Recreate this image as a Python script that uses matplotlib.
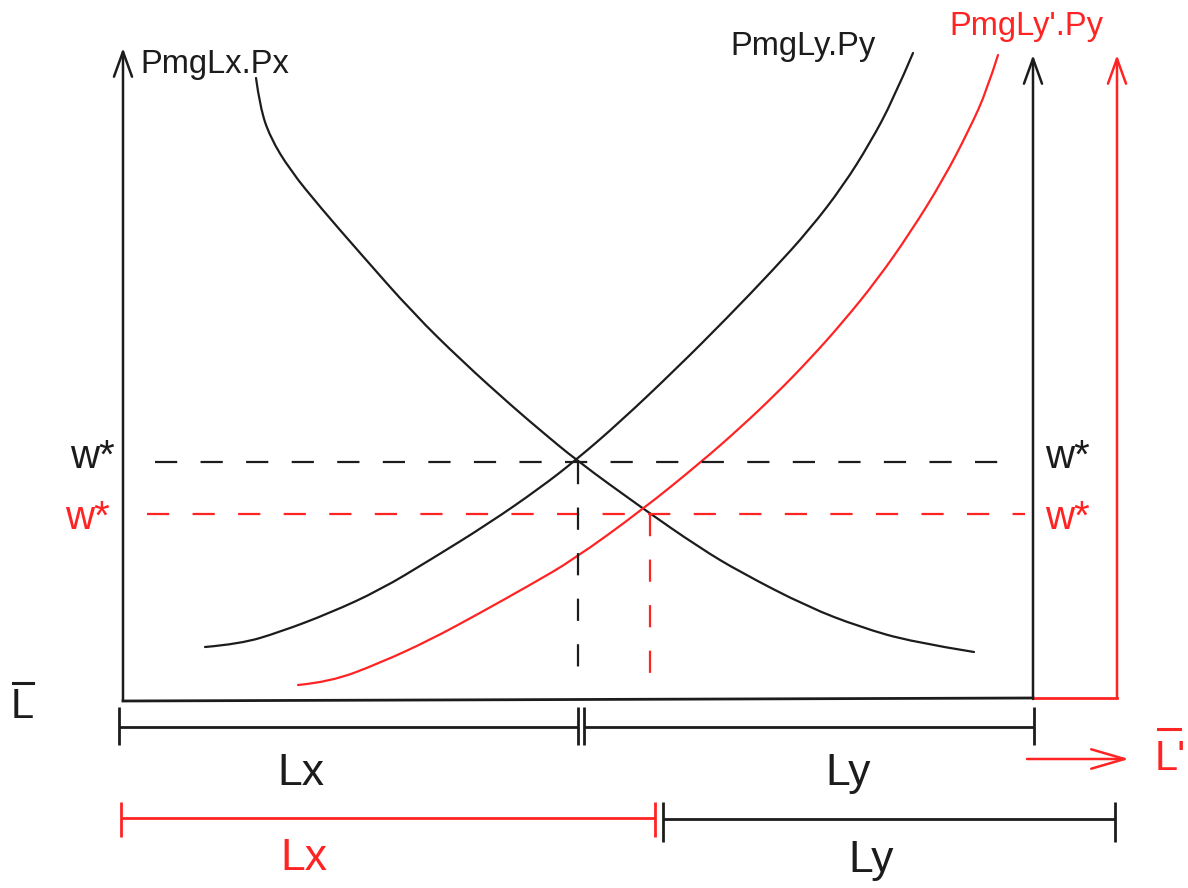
import matplotlib
matplotlib.use("Agg")
from matplotlib import pyplot as plt
from matplotlib.path import Path
from matplotlib.patches import PathPatch

plt.rcParams['font.family'] = ['Liberation Sans', 'DejaVu Sans']

BLACK = '#1c1c1c'
RED = '#ff2424'

# curves (x to the right, y downwards, pixel units)
pmg_lx_x = [256, 260, 270, 290, 320, 360, 413, 463, 513, 540, 576, 642, 700, 740, 808, 860, 912, 974]
pmg_lx_y = [78, 107, 137, 170, 207, 253, 313, 362, 407, 430, 460, 508, 548, 572, 607, 627, 642, 652]

pmg_ly_x = [205, 240, 280, 330, 380, 430, 488, 540, 576, 620, 677, 727, 773, 810, 843, 870, 893, 913]
pmg_ly_y = [647, 644, 632, 613, 590, 560, 524, 488, 460, 422, 368, 318, 270, 229, 186, 143, 100, 53]

pmg_ly2_x = [298, 330, 380, 430, 480, 530, 573, 642, 700, 740, 777, 810, 843, 877, 910, 943, 970, 987, 998]
pmg_ly2_y = [685, 682, 663, 640, 613, 585, 560, 510, 463, 428, 393, 359, 322, 280, 233, 180, 128, 90, 55]

# equilibrium wages and allocations
w_star = 462
w_star_new = 514
lx_star = 578
lx_star_new = 650

# axes: origin, right edges of the labour box
origin_x = 123
origin_y = 701
box_right = 1033
box_right_new = 1117
axis_top = 48

fig = plt.figure(figsize=(11.88, 8.88), dpi=100)
ax = fig.add_axes([0, 0, 1, 1])
ax.set_xlim(0, 1188)
ax.set_ylim(888, 0)
ax.axis('off')


def smooth_curve(xs, ys, color, lw=1.6):
    # quadratic bezier chain through the midpoints, read points as controls
    pts = list(zip(xs, ys))
    verts = [pts[0]]
    codes = [Path.MOVETO]
    for i in range(1, len(pts) - 1):
        if i < len(pts) - 2:
            end = ((pts[i][0] + pts[i + 1][0]) / 2, (pts[i][1] + pts[i + 1][1]) / 2)
        else:
            end = pts[-1]
        verts += [pts[i], end]
        codes += [Path.CURVE3, Path.CURVE3]
    ax.add_patch(PathPatch(Path(verts, codes), fill=False, edgecolor=color, lw=lw,
                           capstyle='round'))


def arrow(x0, y0, x1, y1, color, lw=1.8, hl=18, hw=6.5):
    ax.annotate('', xy=(x1, y1), xytext=(x0, y0),
                arrowprops=dict(arrowstyle=f'->,head_length={hl},head_width={hw}',
                                mutation_scale=1, color=color, lw=lw,
                                shrinkA=0, shrinkB=0))


def bracket(x0, x1, y, y_lo, y_hi, color, lw=2.0):
    ax.plot([x0, x1], [y, y], color=color, lw=lw, solid_capstyle='butt')
    ax.plot([x0, x0], [y_lo, y_hi], color=color, lw=lw, solid_capstyle='butt')
    ax.plot([x1, x1], [y_lo, y_hi], color=color, lw=lw, solid_capstyle='butt')


# axes of the box
arrow(origin_x, origin_y, origin_x, axis_top, BLACK)
ax.plot([origin_x, box_right], [origin_y, 698], color=BLACK, lw=2.0)
arrow(box_right, 699, box_right, 55, BLACK)
ax.plot([box_right, box_right_new], [698, 698], color=RED, lw=2.0)
arrow(box_right_new, 698, box_right_new, 55, RED)

# curves
smooth_curve(pmg_lx_x, pmg_lx_y, BLACK)
smooth_curve(pmg_ly_x, pmg_ly_y, BLACK)
smooth_curve(pmg_ly2_x, pmg_ly2_y, RED)

# dashed guides
dash = (10, 10.5)
ax.plot([155, 1000], [w_star, w_star], color=BLACK, lw=1.6, dashes=dash)
ax.plot([147, 1025], [w_star_new, w_star_new], color=RED, lw=1.6, dashes=dash)
ax.plot([lx_star, lx_star], [w_star, 668], color=BLACK, lw=1.6, dashes=dash)
ax.plot([lx_star_new, lx_star_new], [w_star_new, 682], color=RED, lw=1.6, dashes=dash)

# curve labels
ax.text(140, 73, 'PmgLx.Px', color=BLACK, fontsize=23.5, va='baseline')
ax.text(730, 55, 'PmgLy.Py', color=BLACK, fontsize=23.5, va='baseline')
ax.text(949, 35, "PmgLy'.Py", color=RED, fontsize=23.5, va='baseline')

# wage labels
ax.text(115, 468, 'w*', color=BLACK, fontsize=29, ha='right', va='baseline')
ax.text(110, 529, 'w*', color=RED, fontsize=29, ha='right', va='baseline')
ax.text(1045, 468, 'w*', color=BLACK, fontsize=29, va='baseline')
ax.text(1045, 529, 'w*', color=RED, fontsize=29, va='baseline')

# L bar labels
ax.text(11, 718, 'L', color=BLACK, fontsize=30, va='baseline')
ax.plot([13, 33], [683, 683], color=BLACK, lw=2.2)
ax.text(1155, 770, "L'", color=RED, fontsize=30, va='baseline')
ax.plot([1158, 1180], [729, 729], color=RED, lw=2.2)
arrow(1027, 759, 1129, 759, RED, lw=1.8, hl=24, hw=7)

# allocation brackets
bracket(119, lx_star, 727, 707, 745, BLACK)
bracket(lx_star + 6, box_right + 1, 727, 707, 745, BLACK)
bracket(121, lx_star_new + 5, 818, 802, 837, RED)
bracket(lx_star_new + 13, box_right_new - 2, 819, 802, 842, BLACK)

ax.text(301, 785, 'Lx', color=BLACK, fontsize=32, ha='center', va='baseline')
ax.text(848, 785, 'Ly', color=BLACK, fontsize=32, ha='center', va='baseline')
ax.text(304, 870, 'Lx', color=RED, fontsize=32, ha='center', va='baseline')
ax.text(871, 872, 'Ly', color=BLACK, fontsize=32, ha='center', va='baseline')

fig.savefig('out.png', dpi=100, facecolor='white')
